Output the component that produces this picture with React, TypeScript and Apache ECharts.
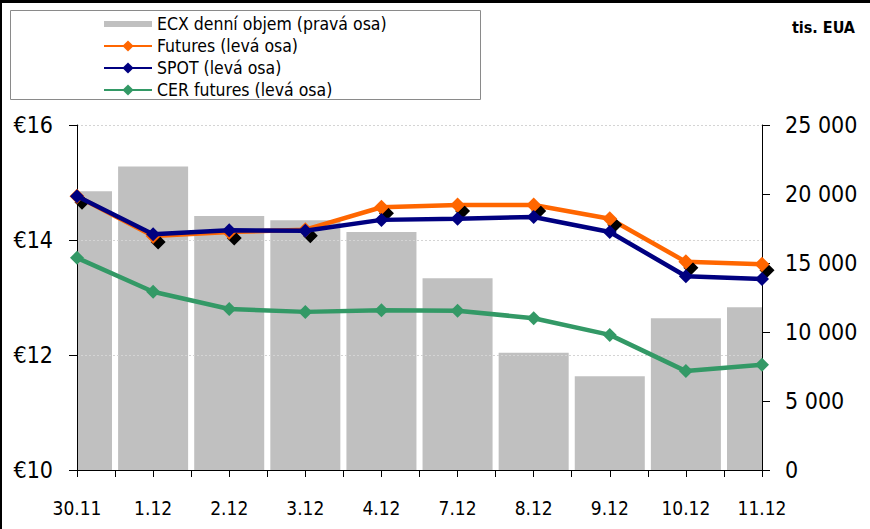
import React, { useEffect, useRef } from "react";
import * as echarts from "echarts";

const dates = ["30.11", "1.12", "2.12", "3.12", "4.12", "7.12", "8.12", "9.12", "10.12", "11.12"];
const volume = [20200, 22000, 18400, 18100, 17250, 13900, 8500, 6800, 11000, 11800];
const futures = [14.76, 14.07, 14.14, 14.18, 14.57, 14.61, 14.61, 14.37, 13.62, 13.58];
const spot = [14.76, 14.1, 14.17, 14.16, 14.35, 14.37, 14.4, 14.14, 13.37, 13.32];
const cer = [13.69, 13.1, 12.8, 12.75, 12.78, 12.77, 12.64, 12.35, 11.72, 11.83];

const leftTicks = { min: 10, max: 16, interval: 2 };
const rightTicks = { min: 0, max: 25000, interval: 5000 };

const FONT = "'DejaVu Sans Condensed', 'DejaVu Sans', sans-serif";

const fmtThousands = (v: number) => String(v).replace(/\B(?=(\d{3})+(?!\d))/g, " ");

export default function App() {
  const ref = useRef<HTMLDivElement>(null);
  useEffect(() => {
    if (!ref.current) return;
    const chart = echarts.init(ref.current, null, { renderer: "svg" });
    const minorCats = Array.from({ length: dates.length * 2 - 1 }, () => "");
    const renderBar = (params: any, api: any) => {
      const idx = api.value(0);
      const v = api.value(1);
      const top = api.coord([idx, v]);
      const base = api.coord([idx, 0]);
      const w = api.size([1, 0])[0] * 0.92;
      const cs = params.coordSys;
      const rect = echarts.graphic.clipRectByRect(
        { x: top[0] - w / 2, y: top[1], width: w, height: base[1] - top[1] },
        { x: cs.x, y: cs.y, width: cs.width, height: cs.height }
      );
      if (!rect) return null;
      return { type: "rect", shape: rect, style: api.style() };
    };
    chart.setOption({
      animation: false,
      backgroundColor: "#fff",
      textStyle: { fontFamily: FONT, color: "#000" },
      grid: { left: 77, right: 108, top: 125, bottom: 59, outerBoundsMode: "none" },
      legend: {
        orient: "vertical",
        left: 103,
        top: 15,
        padding: 0,
        itemWidth: 48,
        itemHeight: 14,
        itemGap: 4,
        textStyle: { fontFamily: FONT, fontSize: 17.5, color: "#000" },
        data: [
          { name: "ECX denní objem (pravá osa)", icon: "path://M0,0 M0,4 L48,4 L48,10 L0,10 Z M48,14" },
          "Futures (levá osa)",
          "SPOT (levá osa)",
          "CER futures (levá osa)",
        ],
      },
      xAxis: [
        {
          type: "category",
          data: dates,
          boundaryGap: false,
          position: "bottom",
          z: 10,
          axisLine: { show: true, lineStyle: { color: "#000", width: 1 } },
          axisTick: { show: false },
          axisLabel: { interval: 0, fontSize: 19, color: "#000", margin: 28, fontFamily: FONT },
          splitLine: { show: false },
        },
        {
          type: "category",
          data: minorCats,
          boundaryGap: false,
          position: "bottom",
          z: 10,
          axisLine: { show: false },
          axisTick: { show: true, interval: 0, length: 7, lineStyle: { color: "#000" } },
          axisLabel: { show: false, interval: 0 },
          splitLine: { show: false },
        },
      ],
      yAxis: [
        {
          type: "value",
          ...leftTicks,
          position: "left",
          z: 10,
          axisLine: { show: true, lineStyle: { color: "#000" } },
          axisTick: { show: true, length: 8, lineStyle: { color: "#000" } },
          axisLabel: { formatter: "€{value}", fontSize: 23, color: "#000", margin: 24, fontFamily: FONT },
          splitLine: { show: true, lineStyle: { color: "#d4d4d4", type: [2, 2], width: 1 } },
        },
        {
          type: "value",
          ...rightTicks,
          position: "right",
          z: 10,
          axisLine: { show: true, lineStyle: { color: "#000" } },
          axisTick: { show: true, length: 8, lineStyle: { color: "#000" } },
          axisLabel: {
            formatter: (v: number) => fmtThousands(v),
            fontSize: 23,
            color: "#000",
            margin: 23,
            fontFamily: FONT,
          },
          splitLine: { show: false },
        },
      ],
      series: [
        {
          name: "ECX denní objem (pravá osa)",
          type: "custom",
          xAxisIndex: 0,
          yAxisIndex: 1,
          data: volume.map((v, i) => [i, v]),
          encode: { x: 0, y: 1 },
          renderItem: renderBar,
          itemStyle: { color: "#c0c0c0" },
          z: 1,
        },
        {
          name: "Futures (levá osa)",
          type: "line",
          xAxisIndex: 0,
          yAxisIndex: 0,
          data: futures,
          symbol: "diamond",
          symbolSize: 15,
          z: 12,
          lineStyle: { color: "#ff6600", width: 4.5 },
          itemStyle: {
            color: "#ff6600",
            shadowColor: "#000",
            shadowOffsetX: 5,
            shadowOffsetY: 6,
            shadowBlur: 0,
          },
        },
        {
          name: "SPOT (levá osa)",
          type: "line",
          xAxisIndex: 0,
          yAxisIndex: 0,
          data: spot,
          symbol: "diamond",
          symbolSize: 14,
          z: 13,
          lineStyle: { color: "#000080", width: 4.5 },
          itemStyle: { color: "#000080" },
        },
        {
          name: "CER futures (levá osa)",
          type: "line",
          xAxisIndex: 0,
          yAxisIndex: 0,
          data: cer,
          symbol: "diamond",
          symbolSize: 14,
          z: 12,
          lineStyle: { color: "#339966", width: 4.5 },
          itemStyle: { color: "#339966" },
        },
      ],
      graphic: [
        { type: "rect", shape: { x: 0, y: 0, width: 870, height: 3 }, style: { fill: "#000" }, silent: true },
        { type: "rect", shape: { x: 0, y: 0, width: 2, height: 529 }, style: { fill: "#000" }, silent: true },
        {
          type: "rect",
          shape: { x: 10.5, y: 10.5, width: 470, height: 89 },
          style: { fill: "none", stroke: "#8a8a8a", lineWidth: 1 },
          silent: true,
        },
        {
          type: "text",
          x: 855,
          y: 27,
          style: {
            text: "tis. EUA",
            fontFamily: FONT,
            fontSize: 16,
            fontWeight: "bold",
            fill: "#000",
            align: "right",
            verticalAlign: "middle",
          },
          silent: true,
        },
      ],
    });
    return () => chart.dispose();
  }, []);
  return (
    <div
      ref={ref}
      style={{ position: "fixed", left: 0, top: 0, width: 870, height: 529 }}
    />
  );
}
